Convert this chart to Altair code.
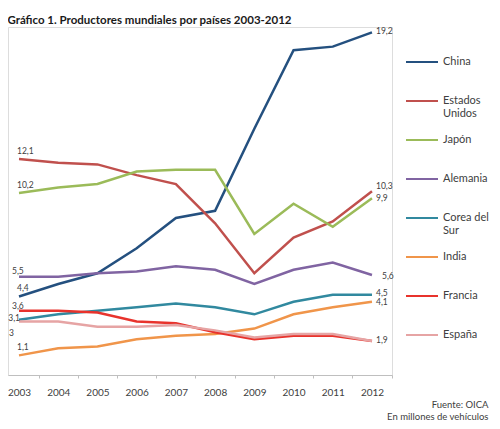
import altair as alt
import pandas as pd

years = list(range(2003, 2013))
countries = ["China", "Estados Unidos", "Japón", "Alemania", "Corea del Sur", "India", "Francia", "España"]
china = [4.4, 5.1, 5.7, 7.1, 8.8, 9.2, 13.8, 18.2, 18.4, 19.2]
usa = [12.1, 11.9, 11.8, 11.2, 10.7, 8.5, 5.7, 7.7, 8.6, 10.3]
japan = [10.2, 10.5, 10.7, 11.4, 11.5, 11.5, 7.9, 9.6, 8.3, 9.9]
germany = [5.5, 5.5, 5.7, 5.8, 6.1, 5.9, 5.1, 5.9, 6.3, 5.6]
korea = [3.1, 3.4, 3.6, 3.8, 4.0, 3.8, 3.4, 4.1, 4.5, 4.5]
india = [1.1, 1.5, 1.6, 2.0, 2.2, 2.3, 2.6, 3.4, 3.8, 4.1]
france = [3.6, 3.6, 3.5, 3.0, 2.9, 2.4, 2.0, 2.2, 2.2, 1.9]
spain = [3.0, 3.0, 2.7, 2.7, 2.8, 2.5, 2.1, 2.3, 2.3, 1.9]
series = [china, usa, japan, germany, korea, india, france, spain]
colors = ["#24507F", "#C0504D", "#9BBB59", "#8064A2", "#31899F", "#F0954A", "#E8332C", "#E6A4A4"]
start_labels = ["4,4", "12,1", "10,2", "5,5", "3,1", "1,1", "3,6", "3"]
end_labels = ["19,2", "10,3", "9,9", "5,6", "4,5", "4,1", "1,9", ""]
legend_labels = {"Estados Unidos": ["Estados", "Unidos"], "Corea del Sur": ["Corea del", "Sur"]}

rows = []
for c, vals, sl, el in zip(countries, series, start_labels, end_labels):
    for y, v in zip(years, vals):
        lab = sl if y == years[0] else (el if y == years[-1] else "")
        rows.append({"country": c, "year": y, "value": v, "label": lab})
df = pd.DataFrame(rows)

FONT = "Lato"
TXT = "#404040"
STEP = 39.22
XMIN = 2003 - 11 / STEP
W = 384

label_expr = " : ".join(
    [f"datum.label == '{k}' ? {v!r}" for k, v in legend_labels.items()]
) + " : datum.label"

x = alt.X(
    "year:Q",
    scale=alt.Scale(domain=[XMIN, XMIN + W / STEP], nice=False, zero=False),
    axis=alt.Axis(
        values=years, format="d", grid=False, tickSize=3, tickOffset=STEP / 2,
        labelOffset=-STEP / 2, labelPadding=9, labelFont=FONT, labelFontSize=10,
        labelColor=TXT, domainColor="#BFBFBF", tickColor="#BFBFBF",
        title=["Fuente: OICA", "En millones de vehículos"], titleX=480, titleY=24,
        titleAlign="right", titleBaseline="top", titleFont=FONT, titleFontSize=9.5,
        titleFontWeight="normal", titleColor=TXT, titleLineHeight=12.5,
    ),
)
y = alt.Y("value:Q", scale=alt.Scale(domain=[0, 19.5], nice=False), axis=None)
color = alt.Color(
    "country:N",
    scale=alt.Scale(domain=countries, range=colors),
    legend=alt.Legend(
        title=None, orient="none", legendX=397, legendY=18, symbolType="stroke",
        symbolSize=1024, symbolStrokeWidth=2, rowPadding=4, gridAlign="all",
        labelFont=FONT, labelFontSize=11, labelColor=TXT, labelOffset=4,
        labelExpr=label_expr, labelLimit=200,
    ),
)

base = alt.Chart(df)
lines = base.mark_line(strokeWidth=2.5).encode(x=x, y=y, color=color)

txt = dict(font=FONT, fontSize=8.5, color=TXT, baseline="middle")
enc = dict(x="year:Q", y="value:Q", text="label:N")


def labels(year, cond, align, dx, dy):
    return base.transform_filter(f"datum.year == {year} && ({cond})").mark_text(
        align=align, dx=dx, dy=dy, **txt).encode(**enc)


layers = [
    lines,
    labels(years[0], "datum.country == 'China' || datum.country == 'Estados Unidos' || datum.country == 'Japón' || datum.country == 'India'", "left", -2, -8),
    labels(years[0], "datum.country == 'Francia'", "left", -7, -5),
    labels(years[0], "datum.country == 'Alemania'", "left", -7, -6),
    labels(years[0], "datum.country == 'Corea del Sur'", "right", 1, -2),
    labels(years[0], "datum.country == 'España'", "right", -5, 12),
    labels(years[-1], "datum.country == 'China' || datum.country == 'Francia' || datum.country == 'España'", "left", 4, -1),
    labels(years[-1], "datum.country == 'Corea del Sur'", "left", 4, -2),
    labels(years[-1], "datum.country == 'India'", "left", 4, 0),
    labels(years[-1], "datum.country == 'Estados Unidos'", "left", 4, -5),
    labels(years[-1], "datum.country == 'Japón'", "left", 4, 0),
    labels(years[-1], "datum.country == 'Alemania'", "left", 10, 1),
]

chart = alt.layer(*layers).properties(
    width=W, height=348,
    title=alt.TitleParams(
        "Gráfico 1. Productores mundiales por países 2003-2012", anchor="start",
        font=FONT, fontSize=11.5, fontWeight="bold", color="#1a1a1a", offset=5,
        baseline="alphabetic", dy=13,
    ),
    autosize=alt.AutoSizeParams(type="none"),
    padding={"left": 0, "top": 19, "right": 100, "bottom": 46},
).configure_view(stroke=None).configure(background="white")

chart.save("out.html", embed_options={"renderer": "svg", "actions": False})
